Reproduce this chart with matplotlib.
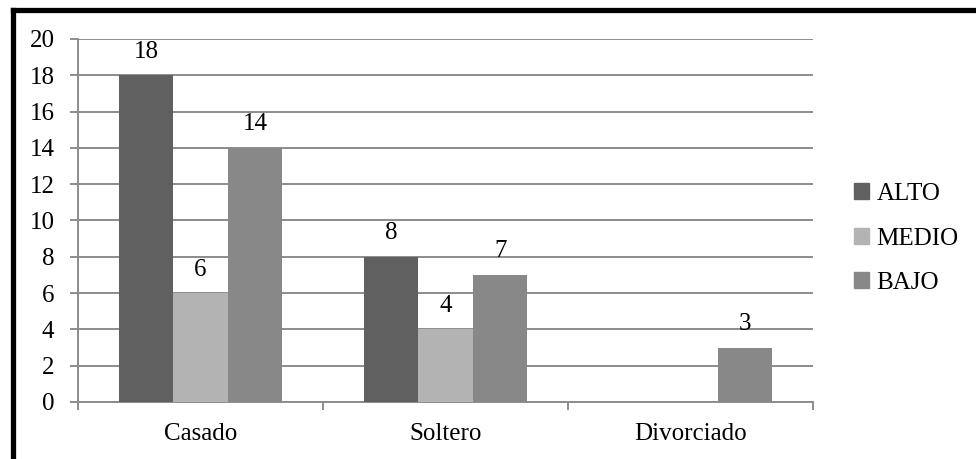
import numpy as np
import matplotlib.pyplot as plt
from matplotlib.patches import Rectangle
from matplotlib.lines import Line2D

plt.rcParams['font.family'] = ['Liberation Serif', 'DejaVu Serif']

categories = ["Casado", "Soltero", "Divorciado"]
series = ["ALTO", "MEDIO", "BAJO"]
alto = [18, 8, 0]
medio = [6, 4, 0]
bajo = [14, 7, 3]
colors = ["#606060", "#b3b3b3", "#888888"]

fs = 18

fig = plt.figure(figsize=(9.76, 4.59), dpi=100)
ax = fig.add_axes([78 / 976, 1 - 402 / 459, (813 - 78) / 976, (402 - 39) / 459])

x = np.arange(len(categories))
w = 0.223
grid_c = "#8c8c8c"

for i, (name, vals, c) in enumerate(zip(series, [alto, medio, bajo], colors)):
    pos = x + (i - 1) * w
    bars = ax.bar(pos, vals, width=w, color=c, label=name, zorder=3)
    for b, v in zip(bars, vals):
        if v > 0:
            ax.annotate(str(v), (b.get_x() + b.get_width() / 2, v),
                        xytext=(0, 9), textcoords="offset points",
                        ha="center", va="bottom", fontsize=fs)

ax.set_xlim(-0.5, 2.5)
ax.set_ylim(0, 20)
ax.set_yticks(range(0, 21, 2))
ax.yaxis.grid(True, color=grid_c, linewidth=1.4, zorder=0)
ax.set_axisbelow(True)

ax.set_xticks([-0.5, 0.5, 1.5, 2.5])
ax.set_xticklabels([])
ax.set_xticks(x, minor=True)
ax.set_xticklabels(categories, minor=True, fontsize=fs)
ax.tick_params(axis="x", which="major", length=6, color=grid_c, width=1.4)
ax.tick_params(axis="x", which="minor", length=0, pad=15)
ax.tick_params(axis="y", length=6, color=grid_c, width=1.4, pad=11, labelsize=fs)

for s in ["top", "right"]:
    ax.spines[s].set_visible(False)
for s in ["left", "bottom"]:
    ax.spines[s].set_color(grid_c)
    ax.spines[s].set_linewidth(1.4)

handles = [Rectangle((0, 0), 1, 1, color=c) for c in colors]
fig.legend(handles, series, loc="upper left", bbox_to_anchor=(844 / 976, 1 - 173 / 459),
           frameon=False, fontsize=fs, handlelength=0.6, handleheight=0.6,
           handletextpad=0.3, labelspacing=0.9, borderaxespad=0)

# outer chart border (only top and left visible in the crop)
fig.add_artist(Line2D([13 / 976, 1.0], [1 - 9.5 / 459, 1 - 9.5 / 459], color="black",
                      linewidth=3.8, transform=fig.transFigure))
fig.add_artist(Line2D([13 / 976, 13 / 976], [0, 1 - 9.5 / 459], color="black",
                      linewidth=3.8, transform=fig.transFigure))

fig.savefig("out.png", dpi=100)
